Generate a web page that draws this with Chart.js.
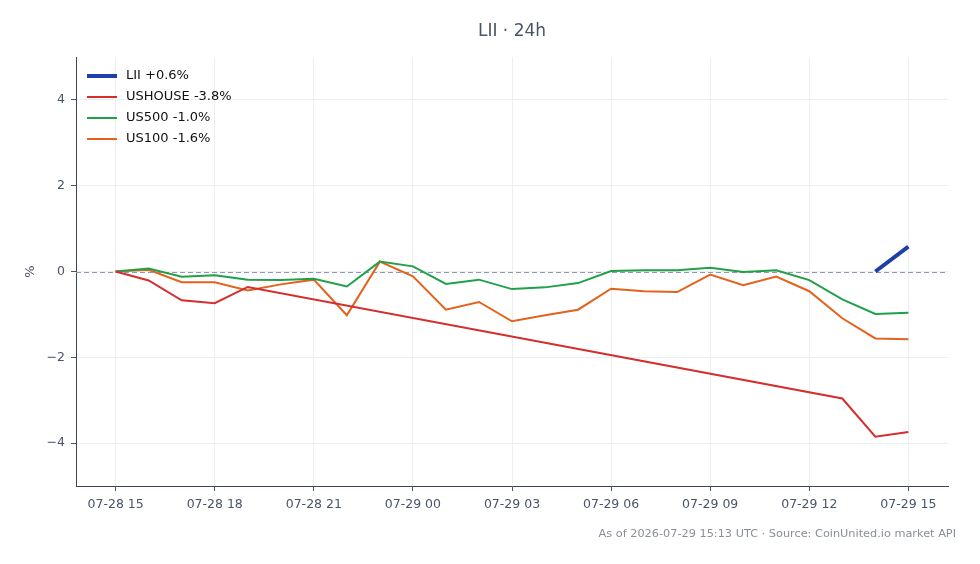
<!DOCTYPE html>
<html>
<head>
<meta charset="utf-8">
<script src="https://cdn.jsdelivr.net/npm/chart.js@4.4.1/dist/chart.umd.min.js"></script>
<style>
  html, body { margin: 0; padding: 0; background: #fff; }
  #wrap { width: 980px; height: 564px; }
</style>
</head>
<body>
<div id="wrap"><canvas id="chart" width="980" height="564"></canvas></div>
<script>
// ── DATA ────────────────────────────────────────────────────
const HOURS         = [0,1,2,3,4,5,6,7,8,9,10,11,12,13,14,15,16,17,18,19,20,21,22,23,24];
const X_TICKS       = [0,3,6,9,12,15,18,21,24];
const X_TICK_LABELS = ['07-28 15','07-28 18','07-28 21','07-29 00','07-29 03','07-29 06','07-29 09','07-29 12','07-29 15'];
const Y_TICKS       = [-4,-2,0,2,4];

const LII     = [null,null,null,null,null,null,null,null,null,null,null,null,null,null,null,null,null,null,null,null,null,null,null,0,0.58];
const USHOUSE = [0,-0.21,-0.67,-0.74,-0.36,null,null,null,null,null,null,null,null,null,null,null,null,null,null,null,null,null,-2.96,-3.85,-3.74];
const US500   = [0,0.07,-0.12,-0.09,-0.19,-0.2,-0.17,-0.35,0.23,0.12,-0.29,-0.19,-0.41,-0.37,-0.27,0.01,0.03,0.03,0.09,-0.01,0.03,-0.2,-0.65,-0.99,-0.96];
const US100   = [0,0.04,-0.25,-0.25,-0.44,-0.3,-0.19,-1.02,0.23,-0.11,-0.89,-0.71,-1.16,-1.02,-0.89,-0.4,-0.46,-0.48,-0.07,-0.32,-0.12,-0.46,-1.09,-1.56,-1.58];

const SERIES = [
  { label: 'LII +0.6%',      data: LII,     color: '#1f3fa8', width: 4 },
  { label: 'USHOUSE -3.8%',  data: USHOUSE, color: '#d42e2e', width: 2 },
  { label: 'US500 -1.0%',    data: US500,   color: '#20a048', width: 2 },
  { label: 'US100 -1.6%',    data: US100,   color: '#e4621c', width: 2 },
];

const TITLE  = 'LII · 24h';
const FOOTER = 'As of 2026-07-29 15:13 UTC · Source: CoinUnited.io market API';

const AXIS_TXT = '#4a5568';
const GRID     = '#eceef2';
const FONT     = "'DejaVu Sans', sans-serif";

// zero reference line
const zeroLine = {
  id: 'zeroLine',
  beforeDatasetsDraw(chart) {
    const { ctx, chartArea } = chart;
    const y = Math.round(chart.scales.y.getPixelForValue(0)) + 0.5;
    ctx.save();
    ctx.strokeStyle = '#8e9ab4';
    ctx.lineWidth = 1;
    ctx.setLineDash([5, 3]);
    ctx.beginPath();
    ctx.moveTo(chartArea.left, y);
    ctx.lineTo(chartArea.right, y);
    ctx.stroke();
    ctx.restore();
  }
};

// legend inside the plot, top-left
const insideLegend = {
  id: 'insideLegend',
  afterDatasetsDraw(chart) {
    const { ctx, chartArea } = chart;
    ctx.save();
    ctx.font = '13px ' + FONT;
    ctx.textBaseline = 'middle';
    chart.data.datasets.forEach((ds, i) => {
      const y = chartArea.top + 19 + i * 21;
      ctx.strokeStyle = ds.borderColor;
      ctx.lineWidth = ds.borderWidth;
      ctx.beginPath();
      ctx.moveTo(chartArea.left + 11, y);
      ctx.lineTo(chartArea.left + 41, y);
      ctx.stroke();
      ctx.fillStyle = '#111';
      ctx.fillText(ds.label, chartArea.left + 50, y);
    });
    ctx.restore();
  }
};

// title centred over the plot, footer at the bottom right
const texts = {
  id: 'texts',
  afterDraw(chart) {
    const { ctx, chartArea } = chart;
    ctx.save();
    ctx.textBaseline = 'middle';
    ctx.fillStyle = AXIS_TXT;
    ctx.font = '17px ' + FONT;
    ctx.textAlign = 'center';
    ctx.fillText(TITLE, (chartArea.left + chartArea.right) / 2, 32);
    ctx.fillStyle = '#8a8f98';
    ctx.font = '11.3px ' + FONT;
    ctx.textAlign = 'right';
    ctx.fillText(FOOTER, 956, 534);
    ctx.restore();
  }
};

new Chart(document.getElementById('chart'), {
  type: 'line',
  data: {
    datasets: SERIES.map(s => ({
      label: s.label,
      data: HOURS.map((h, i) => ({ x: h, y: s.data[i] })),
      borderColor: s.color,
      backgroundColor: s.color,
      borderWidth: s.width,
      pointRadius: 0,
      tension: 0,
      spanGaps: true,
      fill: false,
    })),
  },
  options: {
    responsive: false,
    animation: false,
    devicePixelRatio: 1,
    layout: { padding: { top: 57, right: 32, bottom: 0, left: 0 } },
    plugins: {
      legend: { display: false },
      tooltip: { enabled: false },
      title: { display: false },
    },
    scales: {
      x: {
        type: 'linear',
        min: -1.2,
        max: 25.2,
        afterBuildTicks: sc => { sc.ticks = X_TICKS.map(v => ({ value: v })); },
        afterFit: sc => { sc.height = 78; },
        ticks: {
          color: AXIS_TXT,
          font: { family: FONT, size: 12.5 },
          padding: 6,
          maxRotation: 0,
          autoSkip: false,
          callback: v => X_TICK_LABELS[X_TICKS.indexOf(v)],
        },
        grid: { color: GRID, tickColor: AXIS_TXT, tickLength: 5 },
        border: { color: '#3d4654', width: 1 },
      },
      y: {
        min: -5,
        max: 5,
        afterBuildTicks: sc => { sc.ticks = Y_TICKS.map(v => ({ value: v })); },
        afterFit: sc => { sc.width = 76; },
        title: {
          display: true,
          text: '%',
          color: AXIS_TXT,
          font: { family: FONT, size: 13 },
          padding: { top: 23, bottom: 0 },
        },
        ticks: {
          color: AXIS_TXT,
          font: { family: FONT, size: 12.5 },
          padding: 6,
          callback: v => (v < 0 ? '\u2212' + Math.abs(v) : String(v)),
        },
        grid: { color: GRID, tickColor: AXIS_TXT, tickLength: 5 },
        border: { color: '#3d4654', width: 1 },
      },
    },
  },
  plugins: [zeroLine, insideLegend, texts],
});
</script>
</body>
</html>
